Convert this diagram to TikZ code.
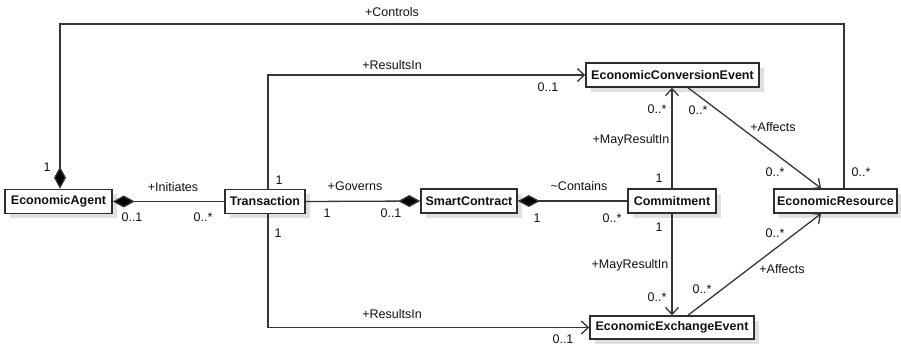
\documentclass[tikz,border=0pt]{standalone}
\usepackage{fontspec}
\setmainfont{Liberation Sans}
\usetikzlibrary{arrows.meta,shadows}
\definecolor{linegray}{HTML}{363636}
\definecolor{boxgray}{HTML}{2E2E2E}
\definecolor{shadowgray}{HTML}{E0E0E0}
\definecolor{textcol}{HTML}{111111}
\begin{document}
\begin{tikzpicture}[x=1pt,y=-1pt,
  cls/.style={draw=boxgray, line width=1.5pt, fill=white, text=textcol,
    font=\fontsize{12.5}{14}\selectfont\bfseries, inner sep=0pt,
    minimum height=24pt,
    drop shadow={shadow xshift=5pt, shadow yshift=-5pt, fill=shadowgray, opacity=1}},
  lbl/.style={font=\fontsize{12.5}{14}\selectfont, inner sep=0pt, text=textcol},
  assoc/.style={draw=linegray, line width=1.3pt},
  comp/.style={assoc, {Diamond[length=22pt,width=12pt,fill=black]}-},
  nav/.style={assoc, -{Straight Barb[length=7pt,width=13pt,line width=1.3pt]}}
]
\useasboundingbox (0,0) rectangle (901,347);

% classes
\node[cls, minimum width=107pt] (agent)    at (58.5,201.5) {EconomicAgent};
\node[cls, minimum width=80pt]  (trans)    at (265,201.5)  {Transaction};
\node[cls, minimum width=96pt]  (smart)    at (469,201)    {SmartContract};
\node[cls, minimum width=88pt]  (commit)   at (672,201)    {Commitment};
\node[cls, minimum width=123pt] (resource) at (835.5,201)  {EconomicResource};
\node[cls, minimum width=173pt] (conv)     at (672.5,75)   {EconomicConversionEvent};
\node[cls, minimum width=164pt, minimum height=23pt] (exch) at (672,327.5) {EconomicExchangeEvent};

% +Controls
\coordinate (ctlL) at (60,24);
\coordinate (ctlR) at (844,24);
\draw[comp] (agent.north -| ctlL) -- (ctlL) -- (ctlR) -- (resource.north -| ctlR);
\node[lbl] (lControls) at (392,12) {+Controls};
\node[lbl] (mCtlA) at (47,167) {1};
\node[lbl] (mCtlR) at (861,172) {0..*};

% +Initiates
\draw[comp] (agent.east) -- (trans.west);
\node[lbl] (lInit) at (173,187) {+Initiates};
\node[lbl] (mInitA) at (132,217) {0..1};
\node[lbl] (mInitT) at (203,217) {0..*};

% +Governs
\draw[comp] (smart.west) -- (trans.east);
\node[lbl] (lGov) at (355,186) {+Governs};
\node[lbl] (mGovT) at (327,213) {1};
\node[lbl] (mGovS) at (391,213) {0..1};

% ~Contains
\draw[comp] (smart.east) -- (commit.west);
\node[lbl] (lCont) at (579,186) {\textasciitilde Contains};
\node[lbl] (mContS) at (537,218) {1};
\node[lbl] (mContC) at (612,218) {0..*};

% +ResultsIn (conversion)
\coordinate (tx) at (268,0);
\draw[nav] (trans.north -| tx) |- (conv.west);
\node[lbl] (lResC) at (392,65) {+ResultsIn};
\node[lbl] (mResCT) at (279,180) {1};
\node[lbl] (mResCE) at (548,87) {0..1};

% +ResultsIn (exchange)
\draw[nav] (trans.south -| tx) |- (exch.west);
\node[lbl] (lResE) at (392,314) {+ResultsIn};
\node[lbl] (mResET) at (278,233) {1};
\node[lbl] (mResEE) at (563,339) {0..1};

% +MayResultIn
\draw[nav] (commit.north) -- (conv.south -| commit.north);
\node[lbl] (lMayC) at (631,140) {+MayResultIn};
\node[lbl] (mMayC1) at (659,178) {1};
\node[lbl] (mMayCE) at (657,109) {0..*};
\draw[nav] (commit.south) -- (exch.north -| commit.south);
\node[lbl] (lMayE) at (630,265) {+MayResultIn};
\node[lbl] (mMayE1) at (659,227) {1};
\node[lbl] (mMayEE) at (657,297) {0..*};

% +Affects
\coordinate (afx) at (688,0);
\coordinate (arx) at (821,0);
\draw[nav] (conv.south -| afx) -- (resource.north -| arx);
\node[lbl] (lAffC) at (773,127) {+Affects};
\node[lbl] (mAffCE) at (698,110) {0..*};
\node[lbl] (mAffCR) at (775,172) {0..*};
\draw[nav] (exch.north -| afx) -- (resource.south -| arx);
\node[lbl] (lAffE) at (782,269) {+Affects};
\node[lbl] (mAffEE) at (702,289) {0..*};
\node[lbl] (mAffER) at (775,233) {0..*};
\end{tikzpicture}
\end{document}
